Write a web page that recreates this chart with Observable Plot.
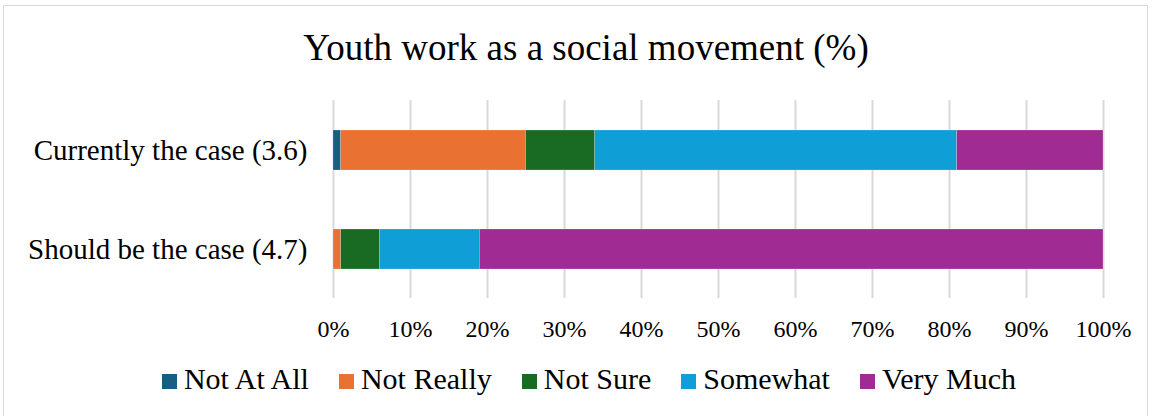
<!DOCTYPE html>
<html>
<head>
<meta charset="utf-8">
<script src="https://cdn.jsdelivr.net/npm/d3@7"></script>
<script src="https://cdn.jsdelivr.net/npm/@observablehq/plot@0.6"></script>
<style>
  html, body { margin: 0; padding: 0; background: #fff; }
  #frame { position: relative; width: 1152px; height: 416px; overflow: hidden; font-family: "Liberation Serif", "Times New Roman", serif; }
  #border { position: absolute; left: 3px; top: 5px; width: 1145px; height: 420px; border: 1px solid #d9d9d9; box-sizing: border-box; }
  #title { position: absolute; left: 0; top: 29px; width: 1172px; text-align: center; font-size: 37px; line-height: 37px; color: #000; white-space: nowrap; }
  #chart { position: absolute; left: 0; top: 90px; }
  #legend { position: absolute; left: 0; top: 364px; width: 1178px; text-align: center; font-size: 30px; line-height: 30px; color: #000; white-space: nowrap; }
  .item { display: inline-block; margin: 0 15px; }
  .sw { display: inline-block; width: 15px; height: 15px; margin-right: 7px; vertical-align: baseline; }
</style>
</head>
<body>
<div id="frame">
  <div id="border"></div>
  <div id="title">Youth work as a social movement (%)</div>
  <div id="chart"></div>
  <div id="legend"></div>
</div>
<script>
const categories = ["Currently the case (3.6)", "Should be the case (4.7)"];
const responses = ["Not At All", "Not Really", "Not Sure", "Somewhat", "Very Much"];
const currentlyValues = [1, 24, 9, 47, 19];
const shouldValues = [0, 1, 5, 13, 81];
const colors = ["#156082", "#E97132", "#196B24", "#0F9ED5", "#A02B93"];
const xTicks = [0, 10, 20, 30, 40, 50, 60, 70, 80, 90, 100];

const seriesByCategory = [currentlyValues, shouldValues];
const rows = [];
categories.forEach((c, ci) => {
  responses.forEach((r, ri) => {
    rows.push({category: c, response: r, value: seriesByCategory[ci][ri]});
  });
});

const chart = Plot.plot({
  width: 1152,
  height: 260,
  marginLeft: 333,
  marginRight: 49,
  marginTop: 10,
  marginBottom: 52,
  style: {fontFamily: "'Liberation Serif', 'Times New Roman', serif", background: "transparent", color: "#000"},
  x: {domain: [0, 100], ticks: xTicks, tickFormat: d => d + "%", tickSize: 0, tickPadding: 21, label: null},
  y: {domain: categories, paddingInner: 0.6, paddingOuter: 0.3, tickSize: 0, tickPadding: 26, label: null},
  color: {domain: responses, range: colors},
  marks: [
    Plot.gridX(xTicks, {stroke: "#d9d9d9", strokeOpacity: 1, strokeWidth: 2}),
    Plot.barX(rows, Plot.stackX({y: "category", x: "value", fill: "response", order: responses, stroke: "#ffffff", strokeWidth: 0.4, strokeOpacity: 0.5}))
  ]
});
chart.querySelectorAll("g[aria-label='y-axis tick label']").forEach(e => e.setAttribute("font-size", "29"));
chart.querySelectorAll("g[aria-label='x-axis tick label']").forEach(e => e.setAttribute("font-size", "24"));
document.getElementById("chart").appendChild(chart);

const legend = document.getElementById("legend");
responses.forEach((r, i) => {
  const item = document.createElement("span");
  item.className = "item";
  const sw = document.createElement("span");
  sw.className = "sw";
  sw.style.background = colors[i];
  item.appendChild(sw);
  item.appendChild(document.createTextNode(r));
  legend.appendChild(item);
});
</script>
</body>
</html>
